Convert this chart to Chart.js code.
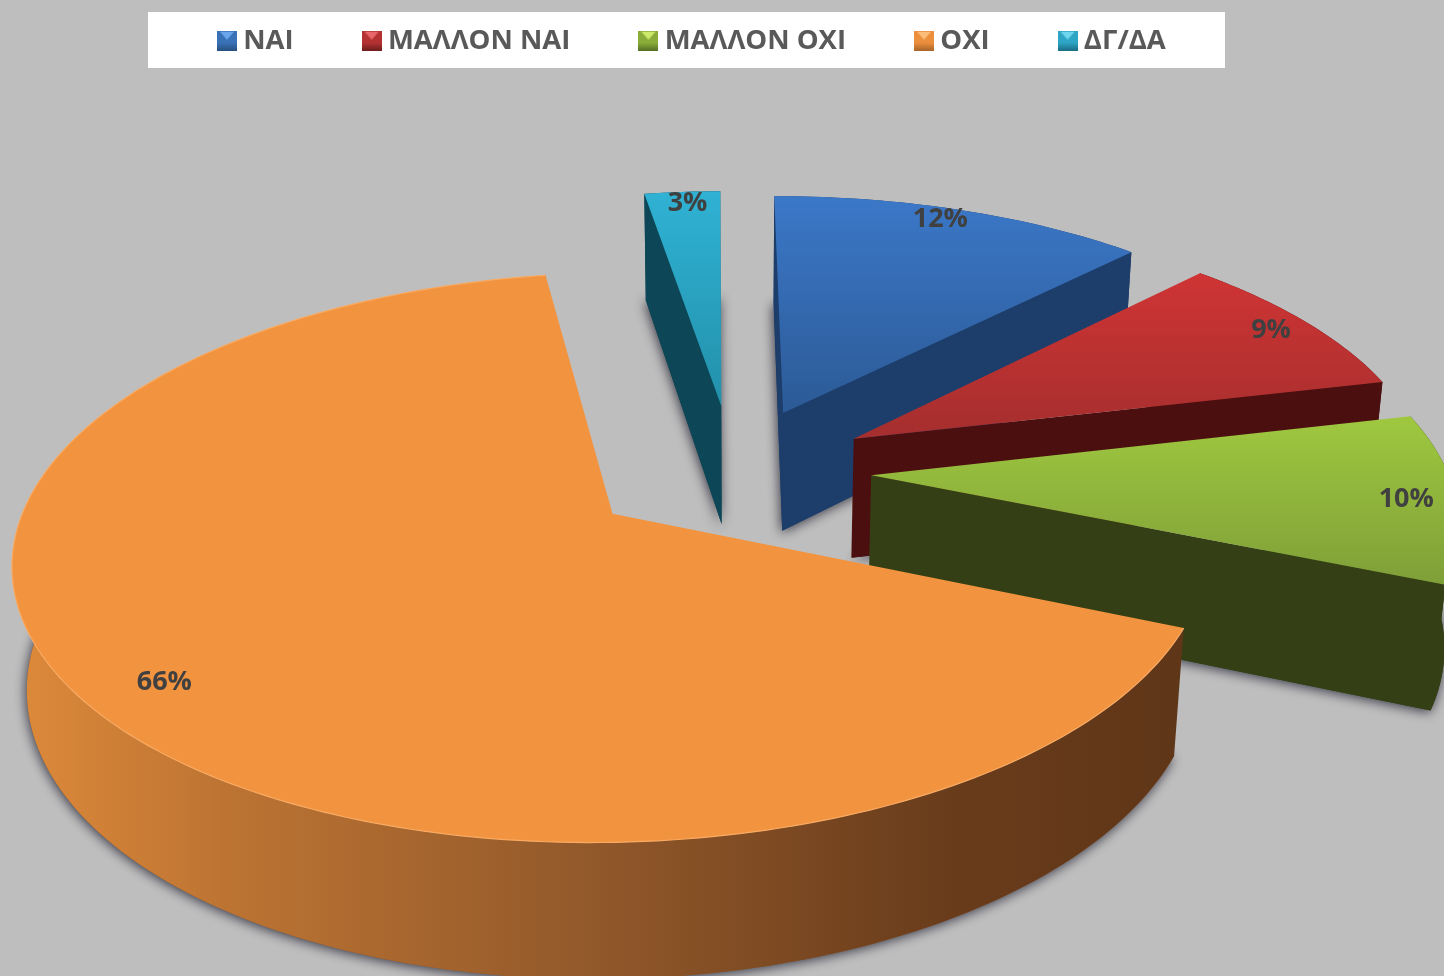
<!DOCTYPE html>
<html>
<head>
<meta charset="utf-8">
<title>Pie</title>
<style>
  html, body { margin: 0; padding: 0; background: #bebebe; }
  canvas { display: block; }
</style>
<script src="https://cdn.jsdelivr.net/npm/chart.js@4"></script>
</head>
<body>
<canvas id="pie" width="1444" height="976"></canvas>
<script>
const categories = ['ΝΑΙ', 'ΜΑΛΛΟΝ ΝΑΙ', 'ΜΑΛΛΟΝ ΟΧΙ', 'ΟΧΙ', 'ΔΓ/ΔΑ'];
const shares = [12.4, 9, 10, 66.1, 2.5];
const explodePercent = [24, 24.5, 24, 26, 25];

const topColors = [['#3b78c8', '#2c5a96'], ['#d03434', '#a52e2e'], ['#9fc83f', '#7f9f38'], ['#f29340', '#f29340'], ['#30b2d4', '#2290aa']];
const wallColors = ['#1d3d6a', '#4c0f0f', '#343f15', '#8f5529', '#0d4656'];
const iconColors = [['#6aa5ea', '#3a72b8', '#27507f'], ['#e8676a', '#b53232', '#6d1d1d'], ['#cdea6a', '#8aad3a', '#566f24'], ['#fbbd78', '#ec8f3c', '#a9652a'], ['#6ed6ee', '#2ea5c4', '#1b6d84']];
const labelFraction = [0.94, 0.92, 0.915, 0.875, 0.94];
const labelTurn = [-1.5, 0, 0.8, -1, 0.4];

// projection of the pie plane on the page (looks like the powerpoint 3D pie)
const view = { cx: 733, cy: 470, rx: 576, ry: 265, depth: 123, persp: 0.15, shrink: 0.02 };

function project(wx, wy, w) {
    const k = 1 / (1 - view.persp * wy + view.shrink * w);
    return { x: view.cx + view.rx * wx * k, y: view.cy + (view.ry * wy + view.depth * w) * k };
}

function tracePoly(ctx, pts) {
    ctx.beginPath();
    pts.forEach((p, i) => i ? ctx.lineTo(p.x, p.y) : ctx.moveTo(p.x, p.y));
    ctx.closePath();
}

function polyArea(pts) {
    let a = 0;
    pts.forEach((p, i) => {
        const q = pts[(i + 1) % pts.length];
        a += p.x * q.y - q.x * p.y;
    });
    return a;
}

function makeIcon(c) {
    const s = 20, cv = document.createElement('canvas');
    cv.width = s; cv.height = s;
    const g = cv.getContext('2d');
    const grad = g.createLinearGradient(0, 0, 0, s);
    grad.addColorStop(0, c[1]);
    grad.addColorStop(0.6, c[1]);
    grad.addColorStop(1, c[2]);
    g.fillStyle = grad;
    g.fillRect(0, 0, s, s);
    g.fillStyle = c[0];
    g.beginPath();
    g.moveTo(3, 1); g.lineTo(s - 3, 1); g.lineTo(s / 2, s * 0.45);
    g.closePath();
    g.fill();
    return cv;
}
const icons = iconColors.map(makeIcon);

function drawSlice(ctx, el, i) {
    const explode = el.options.offset / 100;
    const mid = (el.startAngle + el.endAngle) / 2;
    const ox = Math.cos(mid) * explode, oy = Math.sin(mid) * explode;
    const steps = Math.max(2, Math.ceil((el.endAngle - el.startAngle) / 0.02));
    const rim = w => {
        const pts = [];
        for (let s = 0; s <= steps; s++) {
            const a = el.startAngle + (el.endAngle - el.startAngle) * s / steps;
            pts.push(project(ox + Math.cos(a), oy + Math.sin(a), w));
        }
        return pts;
    };
    const rimTop = rim(0), rimBot = rim(1);
    const apexTop = project(ox, oy, 0), apexBot = project(ox, oy, 1);
    const xs = rimTop.concat(rimBot, [apexTop]).map(p => p.x);
    const ys = rimTop.concat([apexTop]).map(p => p.y);
    const minX = Math.min(...xs), maxX = Math.max(...xs);

    // soft shadow of the base
    ctx.save();
    ctx.shadowColor = 'rgba(40,40,55,0.9)';
    ctx.shadowBlur = 12;
    ctx.shadowOffsetX = -1;
    ctx.shadowOffsetY = 2;
    ctx.fillStyle = wallColors[i];
    tracePoly(ctx, [apexBot].concat(rimBot));
    ctx.fill();
    ctx.restore();

    // outer wall
    const wallGrad = ctx.createLinearGradient(minX, 0, maxX, 0);
    if (i === 3) {
        wallGrad.addColorStop(0, '#de8a3a');
        wallGrad.addColorStop(0.18, '#bd7433');
        wallGrad.addColorStop(0.5, '#91582a');
        wallGrad.addColorStop(0.8, '#693c1b');
        wallGrad.addColorStop(1, '#5f3618');
    } else {
        wallGrad.addColorStop(0, wallColors[i]);
        wallGrad.addColorStop(1, wallColors[i]);
    }
    ctx.fillStyle = wallGrad;
    tracePoly(ctx, rimTop.concat(rimBot.slice().reverse()));
    ctx.fill();

    // cut walls, only the ones that face the viewer
    const startWall = [apexTop, rimTop[0], rimBot[0], apexBot];
    const endWall = [apexTop, apexBot, rimBot[steps], rimTop[steps]];
    [startWall, endWall].forEach(q => {
        if (polyArea(q) < 0) {
            ctx.fillStyle = wallColors[i];
            tracePoly(ctx, q);
            ctx.fill();
        }
    });

    // top face
    const topGrad = ctx.createLinearGradient(0, Math.min(...ys), 0, Math.max(...ys));
    topGrad.addColorStop(0, topColors[i][0]);
    topGrad.addColorStop(1, topColors[i][1]);
    ctx.fillStyle = topGrad;
    tracePoly(ctx, [apexTop].concat(rimTop));
    ctx.fill();

    if (i === 3) {
        ctx.strokeStyle = '#f9ab63';
        ctx.lineWidth = 1.2;
        ctx.beginPath();
        rimTop.forEach((p, n) => n ? ctx.lineTo(p.x, p.y) : ctx.moveTo(p.x, p.y));
        ctx.stroke();
    }
}

function drawLabel(ctx, el, i, values) {
    const explode = el.options.offset / 100;
    const mid = (el.startAngle + el.endAngle) / 2;
    const a = mid + labelTurn[i] * Math.PI / 180;
    const f = labelFraction[i];
    const p = project(Math.cos(mid) * explode + Math.cos(a) * f, Math.sin(mid) * explode + Math.sin(a) * f, 0);
    ctx.fillStyle = '#404040';
    ctx.font = '700 27px "Open Sans"';
    ctx.textAlign = 'center';
    ctx.textBaseline = 'middle';
    ctx.fillText(Math.round(values[i]) + '%', p.x, p.y);
}

const pie3d = {
    id: 'pie3d',
    beforeDraw(chart) {
        const ctx = chart.ctx;
        ctx.save();
        ctx.fillStyle = '#ffffff';
        ctx.fillRect(148, 12, 1077, 56);
        ctx.restore();
    },
    afterLayout(chart) {
        // legend sits in its white strip, not in the layout flow
        chart.legend.left = 149;
        chart.legend.top = -48.5;
    },
    beforeDatasetsDraw(chart) {
        const ctx = chart.ctx;
        const arcs = chart.getDatasetMeta(0).data;
        const order = arcs.map((el, i) => i).sort((a, b) => {
            const ma = (arcs[a].startAngle + arcs[a].endAngle) / 2;
            const mb = (arcs[b].startAngle + arcs[b].endAngle) / 2;
            return Math.sin(ma) - Math.sin(mb);
        });
        ctx.save();
        order.forEach(i => drawSlice(ctx, arcs[i], i));
        arcs.forEach((el, i) => drawLabel(ctx, el, i, chart.data.datasets[0].data));
        ctx.restore();
        return false;
    }
};

new Chart(document.getElementById('pie'), {
    type: 'pie',
    data: {
        labels: categories,
        datasets: [{
            data: shares,
            offset: explodePercent,
            backgroundColor: topColors.map(c => c[0]),
            borderWidth: 0
        }]
    },
    options: {
        responsive: false,
        animation: false,
        rotation: -0.3,
        plugins: {
            tooltip: { enabled: false },
            legend: {
                position: 'top',
                align: 'start',
                labels: {
                    usePointStyle: true,
                    pointStyleWidth: 5,
                    padding: 75.5,
                    font: { family: '"Open Sans"', size: 27.5, weight: '700' },
                    generateLabels: chart => chart.data.labels.map((text, i) => ({
                        text: text,
                        index: i,
                        hidden: false,
                        lineWidth: 0,
                        fontColor: '#595959',
                        pointStyle: icons[i]
                    }))
                }
            }
        }
    },
    plugins: [pie3d]
});
</script>
</body>
</html>
